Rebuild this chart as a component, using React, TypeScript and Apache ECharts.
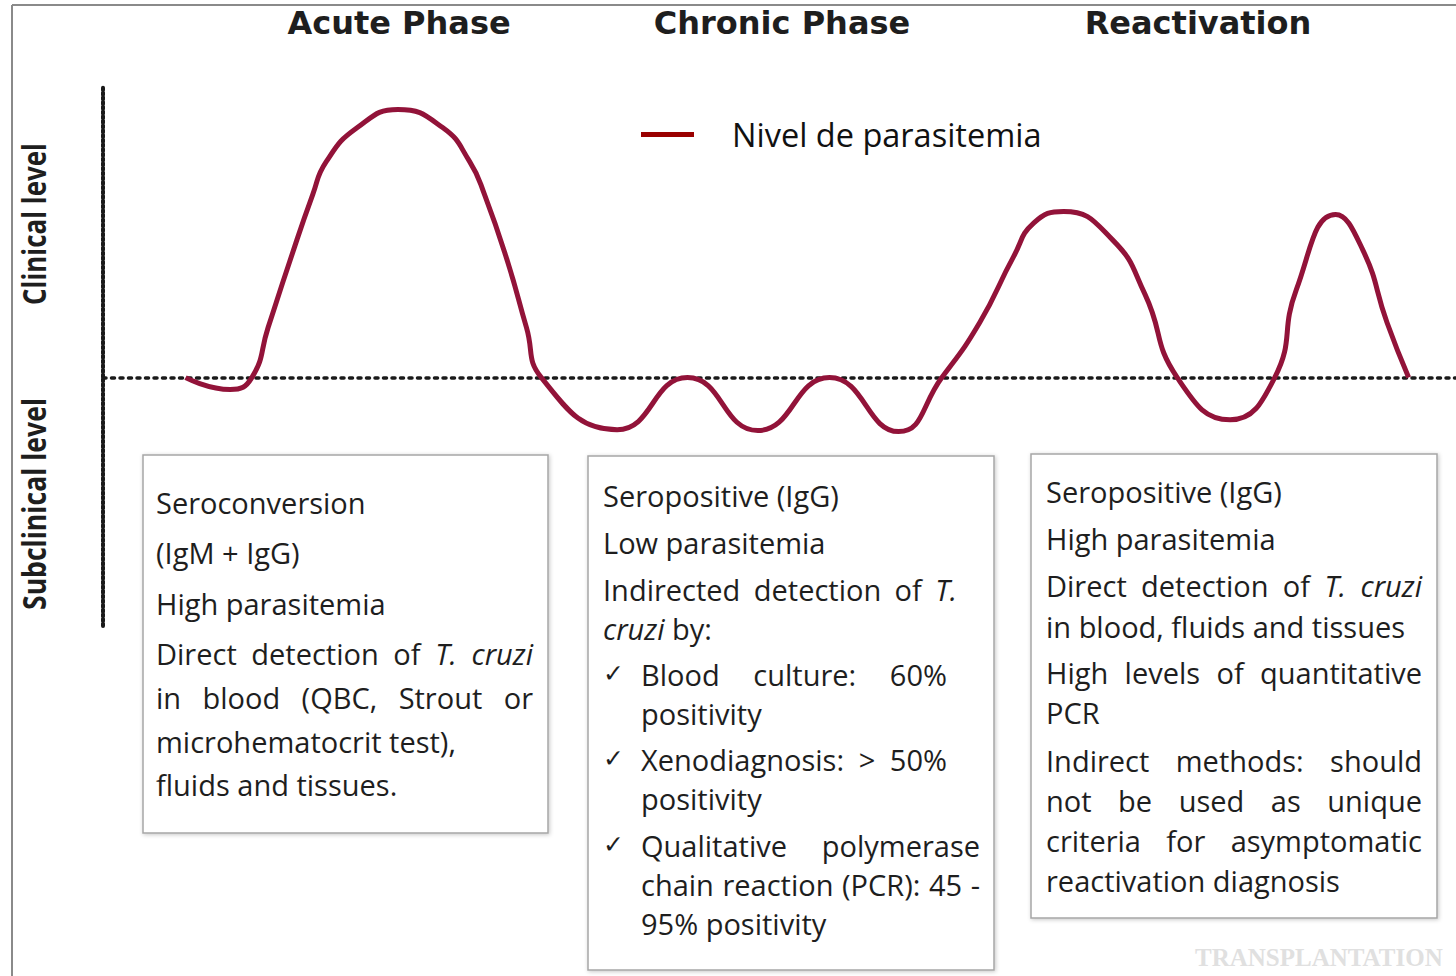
import React, { useEffect, useRef } from "react";
import * as echarts from "echarts";

// ---------- data ----------
const seriesName = "Nivel de parasitemia";
const phaseNames = ["Acute Phase", "Chronic Phase", "Reactivation"];
const levelLabels = ["Clinical level", "Subclinical level"];
const watermark = "TRANSPLANTATION";

// time (arbitrary units, 0-100) and parasitemia level (0 = clinical threshold, acute peak = 100)
const timeValues = [
  6.1, 9.4, 11.0, 12.2, 13.8, 15.5, 16.5, 18.8, 21.8, 25.1, 27.1, 28.2, 29.9, 31.3, 32.4,
  38.0, 43.2, 48.4, 53.7, 58.8, 62.0, 64.8, 67.3, 68.8, 71.0, 74.6, 77.0, 79.4,
  83.3, 86.6, 88.2, 91.1, 93.1, 94.9, 96.5,
];
const parasitemiaValues = [
  0, -4.4, 0, 18.5, 43.0, 67.8, 80.0, 92.6, 99.3, 92.6, 80.0, 67.8, 43.0, 18.5, 0,
  -19.3, 0, -19.6, 0, -20, 0, 20.4, 44.8, 57.3, 61.5, 51.1, 31.0, 0,
  -15.6, 0, 32.6, 60.4, 47.4, 20.4, 0,
];

const acuteBoxLines = [
  "Seroconversion",
  "(IgM + IgG)",
  "High parasitemia",
  "Direct detection of *T. cruzi*",
  "in blood (QBC, Strout or",
  "microhematocrit test),",
  "fluids and tissues.",
];
const chronicBoxLines = [
  "Seropositive (IgG)",
  "Low parasitemia",
  "Indirected detection of *T.*",
  "*cruzi* by:",
  "✓ Blood culture: 60%",
  "positivity",
  "✓ Xenodiagnosis: > 50%",
  "positivity",
  "✓ Qualitative polymerase",
  "chain reaction (PCR): 45 -",
  "95% positivity",
];
const reactivationBoxLines = [
  "Seropositive (IgG)",
  "High parasitemia",
  "Direct detection of *T. cruzi*",
  "in blood, fluids and tissues",
  "High levels of quantitative",
  "PCR",
  "Indirect methods: should",
  "not be used as unique",
  "criteria for asymptomatic",
  "reactivation diagnosis",
];

// ---------- layout ----------
const BODY_FONT = '"Open Sans", "DejaVu Sans", sans-serif';
const FS = 29;
const TEXT_COLOR = "#1e1e1e";

const boxLayouts = [
  {
    lines: acuteBoxLines,
    rect: [143, 455, 405, 378],
    lineY: [502, 552, 603, 653, 697, 741, 784],
    lineX: [156, 156, 156, 156, 156, 156, 156],
    right: [null, null, null, 533, 533, null, null],
  },
  {
    lines: chronicBoxLines,
    rect: [588, 456, 406, 514],
    lineY: [495, 542, 589, 628, 674, 713, 759, 798, 845, 884, 923],
    lineX: [603, 603, 603, 603, 641, 641, 641, 641, 641, 641, 641],
    right: [null, null, 957, null, 947, null, 947, null, 980, 980, null],
  },
  {
    lines: reactivationBoxLines,
    rect: [1031, 454, 406, 464],
    lineY: [491, 538, 585, 626, 672, 712, 760, 800, 840, 880],
    lineX: [1046, 1046, 1046, 1046, 1046, 1046, 1046, 1046, 1046, 1046],
    right: [null, null, 1422, null, 1422, null, 1422, 1422, 1422, null],
  },
];

let measureCtx: CanvasRenderingContext2D | null = null;
function measure(text: string, font: string): number {
  if (!measureCtx) measureCtx = document.createElement("canvas").getContext("2d");
  measureCtx!.font = font;
  return measureCtx!.measureText(text).width;
}
const fontStr = (italic: boolean, bold = false, size = FS, fam = BODY_FONT) =>
  `${italic ? "italic " : ""}${bold ? "bold " : ""}${size}px ${fam}`;

function parseWords(raw: string) {
  const out: { w: string; it: boolean }[] = [];
  let italic = false;
  raw.split(" ").forEach((tok) => {
    let w = tok;
    let it = italic;
    if (w.startsWith("*")) {
      it = true;
      italic = true;
      w = w.slice(1);
    }
    if (w.endsWith("*")) {
      w = w.slice(0, -1);
      italic = false;
    }
    out.push({ w, it });
  });
  return out;
}

function lineElement(raw: string, x: number, y: number, right: number | null): any[] {
  const els: any[] = [];
  let text = raw;
  if (text.startsWith("✓ ")) {
    text = text.slice(2);
    els.push({
      type: "text",
      x: 603,
      y: y - 1,
      style: {
        text: "✓",
        fill: TEXT_COLOR,
        fontSize: 25,
        fontWeight: "bold",
        fontFamily: '"DejaVu Sans", sans-serif',
        textAlign: "left",
        textVerticalAlign: "middle",
      },
    });
  }
  const words = parseWords(text);
  const base = { fontSize: FS, fontFamily: BODY_FONT, fill: TEXT_COLOR };
  const rich: any = {
    n: { ...base },
    i: { ...base, fontStyle: "italic" },
  };
  let gapToken = "{n| }";
  if (right != null && words.length > 1) {
    const total = words.reduce((s, w) => s + measure(w.w, fontStr(w.it)), 0);
    const sp = measure(" ", fontStr(false));
    const gap = Math.max(sp * 0.8, (right - x - total) / (words.length - 1));
    rich.g = { ...base, width: gap };
    gapToken = "{g| }";
  }
  const str = words.map((w) => `{${w.it ? "i" : "n"}|${w.w}}`).join(gapToken);
  els.push({
    type: "text",
    x,
    y,
    style: {
      text: str,
      rich,
      ...base,
      textAlign: "left",
      textVerticalAlign: "middle",
    },
  });
  return els;
}

function buildGraphics(): any[] {
  const g: any[] = [];
  // outer frame
  g.push({ type: "line", shape: { x1: 12, y1: 5, x2: 12, y2: 976 }, style: { stroke: "#8a8a8a", lineWidth: 2 } });
  g.push({ type: "line", shape: { x1: 12, y1: 5, x2: 1456, y2: 5 }, style: { stroke: "#8a8a8a", lineWidth: 2 } });

  // phase headers
  const headerX = [399, 782, 1198];
  phaseNames.forEach((name, i) => {
    g.push({
      type: "text",
      x: headerX[i],
      y: 23,
      style: {
        text: name,
        fill: TEXT_COLOR,
        fontSize: 32,
        fontWeight: "bold",
        fontFamily: '"DejaVu Sans", sans-serif',
        textAlign: "center",
        textVerticalAlign: "middle",
      },
    });
  });

  // rotated level labels
  const labelY = [224, 504];
  const labelLen = [162, 212];
  levelLabels.forEach((lab, i) => {
    const w = measure(lab, fontStr(false, true, 33));
    g.push({
      type: "text",
      x: 33,
      y: labelY[i],
      rotation: Math.PI / 2,
      scaleX: labelLen[i] / w,
      style: {
        text: lab,
        fill: TEXT_COLOR,
        fontSize: 33,
        fontWeight: "bold",
        fontFamily: BODY_FONT,
        textAlign: "center",
        textVerticalAlign: "middle",
      },
    });
  });

  // boxes
  boxLayouts.forEach((b) => {
    const [x, y, w, h] = b.rect;
    g.push({
      type: "rect",
      shape: { x, y, width: w, height: h },
      style: {
        fill: "#ffffff",
        stroke: "#a6a6a6",
        lineWidth: 1.5,
        shadowBlur: 4,
        shadowOffsetX: 1,
        shadowOffsetY: 1,
        shadowColor: "rgba(0,0,0,0.22)",
      },
    });
    b.lines.forEach((ln, i) => {
      lineElement(ln, b.lineX[i], b.lineY[i], b.right[i] as number | null).forEach((e) => g.push(e));
    });
  });

  // watermark
  g.push({
    type: "text",
    x: 1195,
    y: 957,
    style: {
      text: watermark,
      fill: "#e0e0e0",
      fontSize: 25,
      fontWeight: "bold",
      fontFamily: '"Liberation Serif", serif',
      textAlign: "left",
      textVerticalAlign: "middle",
    },
  });
  return g;
}

export default function App() {
  const ref = useRef<HTMLDivElement>(null);
  useEffect(() => {
    if (!ref.current) return;
    const chart = echarts.init(ref.current, null, { renderer: "svg" });
    const option: any = {
      animation: false,
      backgroundColor: "#ffffff",
      grid: { left: 103, right: 0, top: 86, height: 540 },
      xAxis: {
        type: "value",
        min: 0,
        max: 100,
        axisLine: { show: true, onZero: true, lineStyle: { color: "#1a1a1a", width: 3.5, type: [3, 5.5] } },
        axisTick: { show: false },
        axisLabel: { show: false },
        splitLine: { show: false },
      },
      yAxis: {
        type: "value",
        min: -92,
        max: 108,
        axisLine: { show: true, lineStyle: { color: "#1a1a1a", width: 4, type: [2.5, 2.2] } },
        axisTick: { show: false },
        axisLabel: { show: false },
        splitLine: { show: false },
      },
      legend: {
        show: true,
        left: 636,
        top: 113,
        icon: "rect",
        itemWidth: 53,
        itemHeight: 5,
        selectedMode: false,
        itemStyle: { color: "#9a0000" },
        textStyle: { fontFamily: BODY_FONT, fontSize: 32.5, color: "#111111", padding: [0, 0, 0, 33] },
        data: [seriesName],
      },
      series: [
        {
          type: "line",
          name: seriesName,
          data: timeValues.map((t, i) => [t, parasitemiaValues[i]]),
          smooth: 0.5,
          showSymbol: false,
          symbol: "none",
          lineStyle: { color: "#921339", width: 5 },
          itemStyle: { color: "#921339" },
          z: 5,
        },
      ],
      graphic: buildGraphics(),
    };
    chart.setOption(option);
    return () => chart.dispose();
  }, []);
  return (
    <div
      ref={ref}
      style={{ position: "absolute", left: 0, top: 0, width: 1456, height: 976, background: "#fff" }}
    />
  );
}
